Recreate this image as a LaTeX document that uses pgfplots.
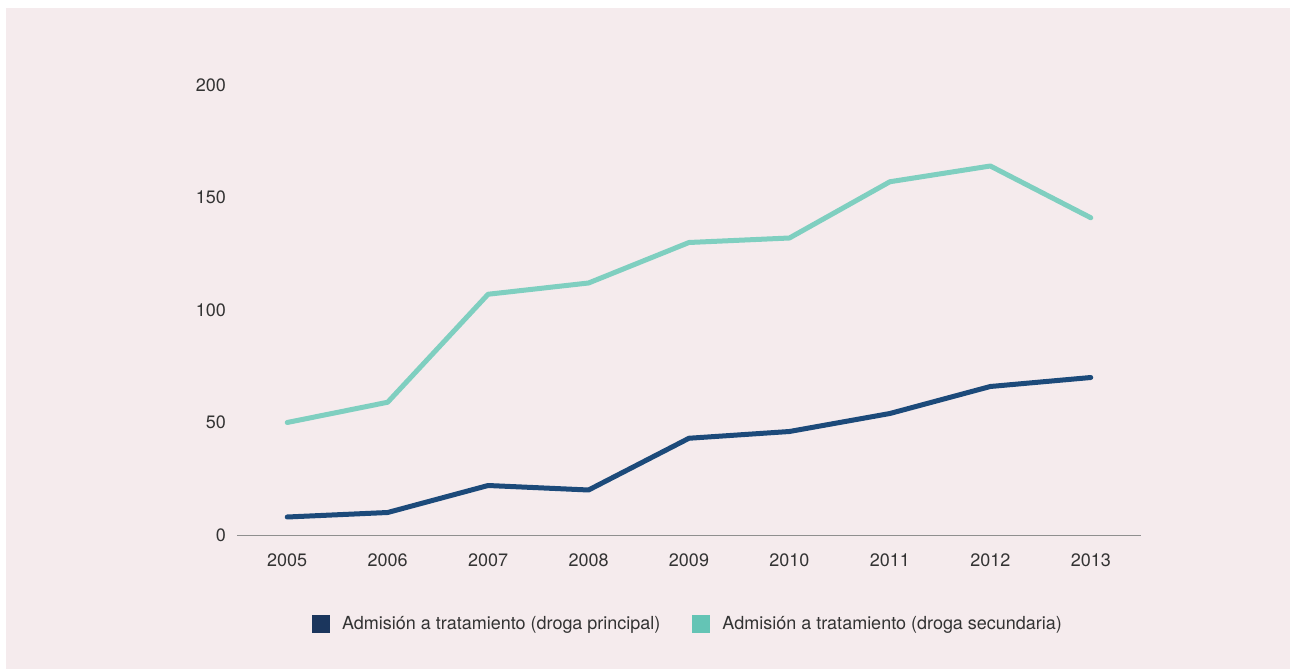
\documentclass[border=0pt]{standalone}
\usepackage{pgfplots}
\pgfplotsset{compat=1.18}
\usepackage{fontspec}
\setmainfont{TeX Gyre Heros}

\definecolor{bgpink}{HTML}{F5EBED}
\definecolor{darkline}{HTML}{1C4A7A}
\definecolor{tealline}{HTML}{7FCFC0}
\definecolor{legdark}{HTML}{1B365D}
\definecolor{legteal}{HTML}{64C4B5}
\definecolor{txt}{HTML}{333333}
\definecolor{axgray}{HTML}{8F8F8F}

\begin{document}
\begin{tikzpicture}
% background: 1px = 0.5pt, origin at lower left of the axis box
\fill[white] (-118.5pt,-67pt) rectangle (526.5pt,267.5pt);
\fill[bgpink] (-115.5pt,-67pt) rectangle (526.5pt,263.5pt);
\begin{axis}[
    scale only axis,
    width=452pt,
    height=225pt,
    xmin=-0.5, xmax=8.5,
    ymin=0, ymax=200,
    xtick={0,...,8},
    xticklabels={2005,2006,2007,2008,2009,2010,2011,2012,2013},
    ytick={0,50,100,150,200},
    axis x line*=bottom,
    axis y line*=left,
    x axis line style={draw=axgray, line width=0.5pt, -},
    y axis line style={draw=none},
    major tick length=0pt,
    tick style={draw=none},
    /pgf/number format/assume math mode=true,
    ticklabel style={font=\fontsize{9}{11}\selectfont, text=txt},
    xticklabel style={yshift=-6pt},
    yticklabel style={xshift=-2pt},
    legend columns=2,
    legend style={
        at={(0.5,-0.198)}, anchor=center,
        draw=none, fill=none,
        font=\fontsize{9}{11}\selectfont, text=txt,
        /tikz/every odd column/.append style={column sep=0pt},
        /tikz/every even column/.append style={column sep=14pt},
    },
    legend image code/.code={\fill[#1] (0pt,-4.5pt) rectangle (9pt,4.5pt);
        \path (13pt,0pt);},
    clip=false,
]
\addlegendimage{legdark, draw=none, fill=legdark}
\addlegendentry{Admisión a tratamiento (droga principal)}
\addlegendimage{legteal, draw=none, fill=legteal}
\addlegendentry{Admisión a tratamiento (droga secundaria)}

\addplot[tealline, line width=2.5pt, line join=round, line cap=round, forget plot] coordinates {
    (0,50) (1,59) (2,107) (3,112) (4,130) (5,132) (6,157) (7,164) (8,141)
};
\addplot[darkline, line width=2.5pt, line join=round, line cap=round, forget plot] coordinates {
    (0,8) (1,10) (2,22) (3,20) (4,43) (5,46) (6,54) (7,66) (8,70)
};
\end{axis}
\pgfresetboundingbox
\path[use as bounding box] (-118.5pt,-67pt) rectangle (526.5pt,267.5pt);
\end{tikzpicture}
\end{document}
